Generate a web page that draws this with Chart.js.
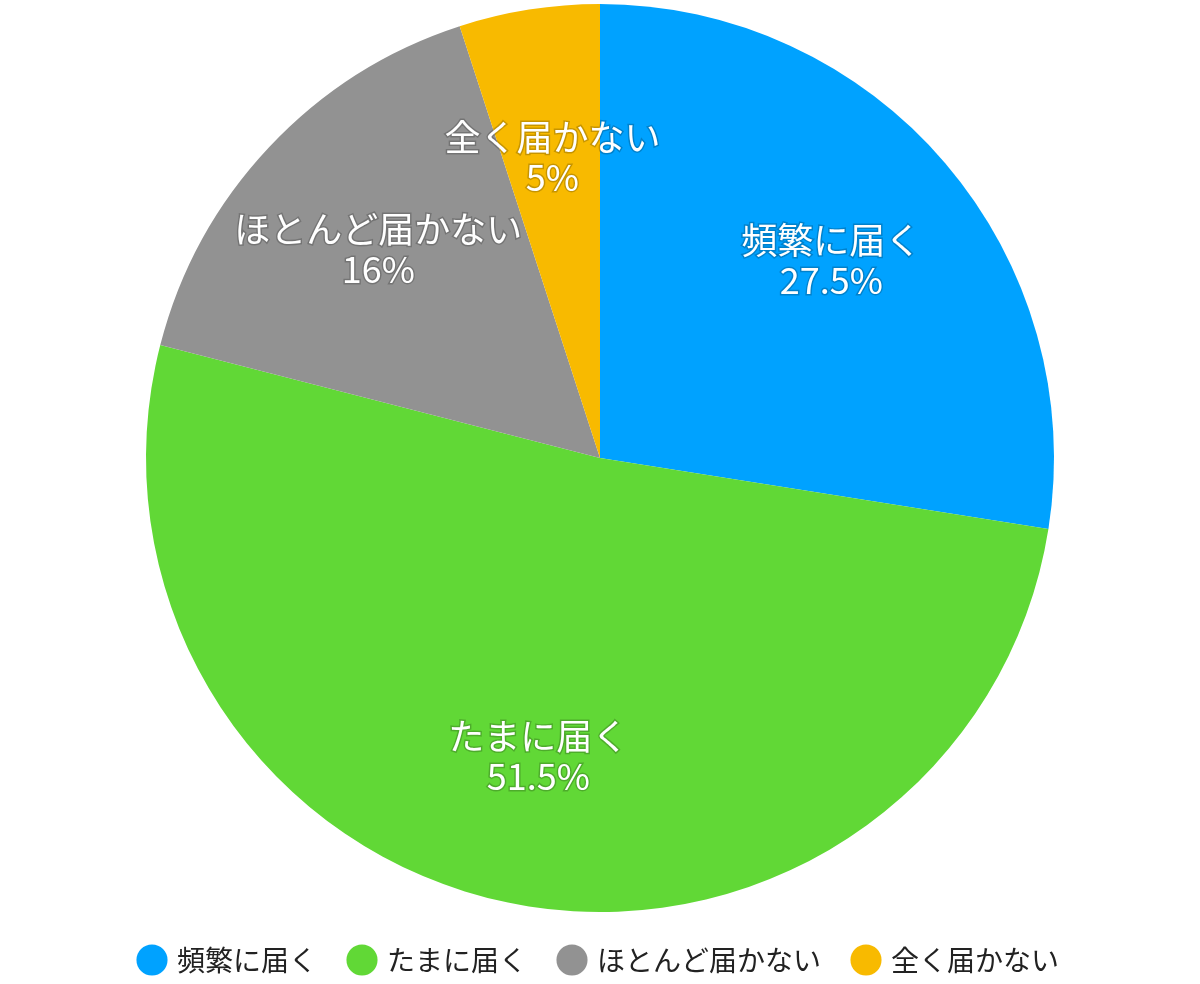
<!DOCTYPE html>
<html><head><meta charset="utf-8">
<script src="https://cdn.jsdelivr.net/npm/chart.js@4"></script>
<style>body{margin:0;background:#fff}#w{width:1200px;height:984px}</style>
</head><body><div id="w"><canvas id="c"></canvas></div>
<script>
const categories=["頻繁に届く","たまに届く","ほとんど届かない","全く届かない"];
const values=[27.5,51.5,16,5];
const valueLabels=["27.5%","51.5%","16%","5%"];
const colors=["#00A2FF","#61D836","#929292","#F8BA00"];
const F='"Noto Sans CJK JP","Noto Sans",sans-serif';
const labelPlugin={id:'lbl',afterDatasetsDraw(chart){
 const ctx=chart.ctx;const meta=chart.getDatasetMeta(0);
 meta.data.forEach((a,i)=>{
  const p=a.getProps(['x','y','startAngle','endAngle','outerRadius'],true);
  const m=(p.startAngle+p.endAngle)/2;const r=p.outerRadius*0.67;
  const x=p.x+Math.cos(m)*r,y=p.y+Math.sin(m)*r;
  ctx.save();ctx.font='36px '+F;ctx.textAlign='center';ctx.textBaseline='middle';
  ctx.lineWidth=3;ctx.strokeStyle='rgba(0,0,0,0.2)';ctx.fillStyle='#fff';
  [[categories[i],y-20],[valueLabels[i],y+20]].forEach(([t,yy])=>{ctx.strokeText(t,x,yy);ctx.fillText(t,x,yy);});
  ctx.restore();});
}};
new Chart(document.getElementById('c'),{type:'pie',
 data:{labels:categories,datasets:[{data:values,backgroundColor:colors,borderWidth:0}]},
 options:{responsive:true,maintainAspectRatio:false,animation:false,
  layout:{padding:{top:4,bottom:0}},
  plugins:{tooltip:{enabled:false},
   legend:{position:'bottom',labels:{usePointStyle:true,pointStyle:'circle',boxWidth:22,boxHeight:22,padding:34,color:'#222',font:{size:28,family:F}}}}},
 plugins:[labelPlugin]});
</script></body></html>
